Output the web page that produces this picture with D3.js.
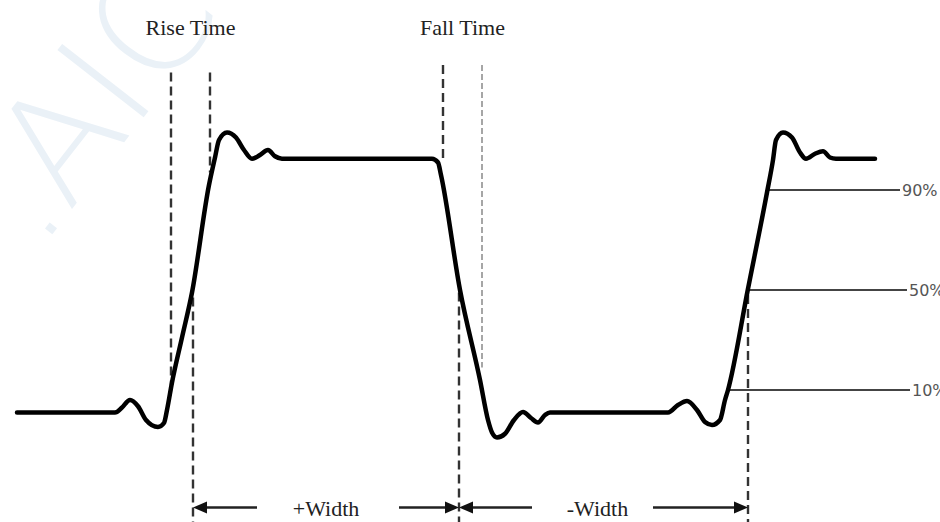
<!DOCTYPE html>
<html>
<head>
<meta charset="utf-8">
<script src="https://cdn.jsdelivr.net/npm/d3@7"></script>
<style>
  body { margin: 0; background: #fff; overflow: hidden; }
</style>
</head>
<body>
<svg id="chart" width="940" height="522"></svg>
<script>
// waveform, time in ns, level in % of the step
const waveTime = [0, 49, 52.5, 56.5, 60.5, 64.5, 70.5, 73.5, 75, 77.5,
  82.5, 87.5, 96, 99, 101, 105, 109.5, 113.5, 117.5, 121.5,
  125.5, 129, 132.5, 207.5, 210.5, 212, 221.5, 231.5, 235.5, 237.5,
  240, 244, 248.5, 253, 257, 260.5, 264, 266.5, 325.5, 330.5,
  335, 340, 344, 347.5, 351.5, 354, 355.5, 365.5, 375, 378,
  379.5, 383, 387.5, 391.5, 394.5, 399, 403, 406.5, 409.5, 429];
const waveLevel = [1, 1, 3, 6, 3.5, -2, -4.8, -3.2, 2, 13,
  31, 49, 92, 103, 110, 113, 111, 106, 102.5, 104,
  106, 103.5, 102.5, 102.5, 101, 96, 50, 14, -2, -7,
  -9, -7.5, -2, 1.2, -1.2, -3, 0, 1, 1, 4,
  5.6, 2, -2.8, -4, -2, 6, 10, 50.5, 89, 102,
  110, 113, 111, 105, 102.5, 104.5, 105.5, 103, 102.5, 102.5];

// reference levels on the right
const refLevels = [90, 50, 10];
const refLabels = ['90%', '50%', '10%'];
const refStart = [375, 365.5, 355.5];
const refEnd = [441.5, 445, 446.5];

// dashed cursors: rise, rise, fall, fall, width, width, width
const cursorTime = [77, 96.5, 213, 232.5, 88, 221, 365.5];
const cursorTop = [137, 137, 140, 140, 47, 49, 48];
const cursorBottom = [12, 97, 102, 19, -44, -44, -44];

const timeLabels = ['Rise Time', 'Fall Time'];
const timeLabelAt = [86.75, 222.75];
const timeLabelLevel = 152;

const widthLabels = ['+Width', '-Width'];
const widthFrom = [88, 221];
const widthTo = [221, 365.5];
const widthGapFrom = [120, 257.5];
const widthGapTo = [191, 318];
const widthLabelAt = [154.5, 290.25];
const widthLevel = -37;

const width = 940;
const height = 522;

let x = d3.scaleLinear().domain([0, 430]).range([17, 877]);
let y = d3.scaleLinear().domain([0, 100]).range([415, 165]);

const svg = d3.select('#chart');

// faint watermark
svg.append('text')
  .attr('transform', 'translate(40,250) rotate(-52)')
  .attr('font-family', 'DejaVu Sans')
  .attr('font-weight', 200)
  .attr('font-size', 150)
  .attr('fill', '#eaf1f7')
  .text('.AIC');

// dashed cursors
svg.append('g').selectAll('line')
  .data(cursorTime)
  .join('line')
    .attr('x1', d => x(d))
    .attr('x2', d => x(d))
    .attr('y1', (d, i) => y(cursorTop[i]))
    .attr('y2', (d, i) => y(cursorBottom[i]))
    .attr('stroke', (d, i) => i === 3 ? '#777' : '#333')
    .attr('stroke-width', (d, i) => i === 3 ? 1.3 : 2.4)
    .attr('stroke-dasharray', (d, i) => i === 3 ? '6,3' : '9,5');

// reference level lines
svg.append('g').selectAll('line')
  .data(refLevels)
  .join('line')
    .attr('x1', (d, i) => x(refStart[i]))
    .attr('x2', (d, i) => x(refEnd[i]))
    .attr('y1', d => y(d))
    .attr('y2', d => y(d))
    .attr('stroke', '#444')
    .attr('stroke-width', 2);

svg.append('g').selectAll('text')
  .data(refLevels)
  .join('text')
    .attr('x', (d, i) => x(refEnd[i]) + 2)
    .attr('y', d => y(d))
    .attr('dy', '0.35em')
    .attr('font-family', 'DejaVu Sans')
    .attr('font-size', 16)
    .attr('fill', '#555')
    .text((d, i) => refLabels[i]);

// the waveform
let line = d3.line()
  .x(d => x(d[0]))
  .y(d => y(d[1]))
  .curve(d3.curveMonotoneX);

svg.append('path')
  .datum(d3.zip(waveTime, waveLevel))
  .attr('d', line)
  .attr('fill', 'none')
  .attr('stroke', '#000')
  .attr('stroke-width', 4.5)
  .attr('stroke-linejoin', 'round')
  .attr('stroke-linecap', 'round');

// labels on top
svg.append('g').selectAll('text')
  .data(timeLabels)
  .join('text')
    .attr('x', (d, i) => x(timeLabelAt[i]))
    .attr('y', y(timeLabelLevel))
    .attr('text-anchor', 'middle')
    .attr('font-family', 'Liberation Serif')
    .attr('font-size', 22)
    .attr('fill', '#222')
    .text(d => d);

// width arrows
let ay = y(widthLevel);
let arrows = svg.append('g');
widthLabels.forEach((lab, i) => {
  let a = x(widthFrom[i]), b = x(widthTo[i]);
  arrows.append('line')
    .attr('x1', a + 10).attr('x2', x(widthGapFrom[i]))
    .attr('y1', ay).attr('y2', ay)
    .attr('stroke', '#222').attr('stroke-width', 2.5);
  arrows.append('line')
    .attr('x1', x(widthGapTo[i])).attr('x2', b - 10)
    .attr('y1', ay).attr('y2', ay)
    .attr('stroke', '#222').attr('stroke-width', 2.5);
  arrows.append('path')
    .attr('d', `M${a},${ay} L${a + 14},${ay - 6} L${a + 14},${ay + 6} Z`)
    .attr('fill', '#111');
  arrows.append('path')
    .attr('d', `M${b},${ay} L${b - 14},${ay - 6} L${b - 14},${ay + 6} Z`)
    .attr('fill', '#111');
  arrows.append('text')
    .attr('x', x(widthLabelAt[i]))
    .attr('y', ay + 8)
    .attr('text-anchor', 'middle')
    .attr('font-family', 'Liberation Serif')
    .attr('font-size', 22)
    .attr('fill', '#222')
    .text(lab);
});
</script>
</body>
</html>
